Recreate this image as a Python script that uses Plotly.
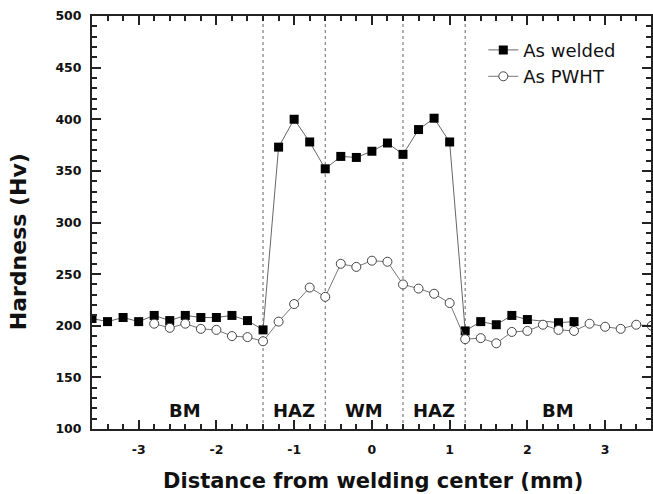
import plotly.graph_objects as go

# ---- data ----
x_welded = [-3.6, -3.4, -3.2, -3.0, -2.8, -2.6, -2.4, -2.2, -2.0, -1.8, -1.6, -1.4,
            -1.2, -1.0, -0.8, -0.6, -0.4, -0.2, 0.0, 0.2, 0.4, 0.6, 0.8, 1.0,
            1.2, 1.4, 1.6, 1.8, 2.0, 2.4, 2.6]
hv_welded = [207, 204, 208, 204, 210, 205, 210, 208, 208, 210, 205, 196,
             373, 400, 378, 352, 364, 363, 369, 377, 366, 390, 401, 378,
             195, 204, 201, 210, 206, 203, 204]

x_pwht = [-2.8, -2.6, -2.4, -2.2, -2.0, -1.8, -1.6, -1.4, -1.2, -1.0, -0.8, -0.6,
          -0.4, -0.2, 0.0, 0.2, 0.4, 0.6, 0.8, 1.0,
          1.2, 1.4, 1.6, 1.8, 2.0, 2.2, 2.4, 2.6, 2.8, 3.0, 3.2, 3.4, 3.6]
hv_pwht = [202, 198, 202, 197, 196, 190, 189, 185, 204, 221, 237, 228,
           260, 257, 263, 262, 240, 236, 231, 222,
           187, 188, 183, 194, 195, 201, 196, 195, 202, 199, 197, 201, 200]

zone_boundaries = [-1.4, -0.6, 0.4, 1.2]
zone_labels = ["BM", "HAZ", "WM", "HAZ", "BM"]
zone_label_x = [-2.4, -1.0, -0.1, 0.8, 2.4]
zone_label_y = 117.6

x_tick_vals = [-3, -2, -1, 0, 1, 2, 3]
x_tick_text = ["-3", "-2", "-1", "0", "1", "2", "3"]
y_tick_vals = [100, 150, 200, 250, 300, 350, 400, 450, 500]

BOLD = "DejaVu Sans"

fig = go.Figure()
fig.add_trace(go.Scatter(
    x=x_welded, y=hv_welded, mode="lines+markers", name="As welded",
    line=dict(color="#666666", width=1),
    marker=dict(symbol="square", size=9, color="black", line=dict(width=0)),
))
fig.add_trace(go.Scatter(
    x=x_pwht, y=hv_pwht, mode="lines+markers", name="As PWHT",
    line=dict(color="#777777", width=1),
    marker=dict(symbol="circle", size=9, color="white",
                line=dict(color="#444444", width=1)),
))

for xb in zone_boundaries:
    fig.add_shape(type="line", x0=xb, x1=xb, y0=0, y1=1, xref="x", yref="paper",
                  line=dict(color="#666666", width=1, dash="dot"), layer="below")

for lab, xl in zip(zone_labels, zone_label_x):
    fig.add_annotation(x=xl, y=zone_label_y, xref="x", yref="y", text=lab,
                       showarrow=False, font=dict(family=BOLD, size=18, color="#111111", weight="bold"))

fig.add_annotation(x=0.5027, y=-0.125, xref="paper", yref="paper",
                   text="Distance from welding center (mm)", showarrow=False,
                   xanchor="center", yanchor="middle",
                   font=dict(family=BOLD, size=21, color="#111111", weight="bold"))
fig.add_annotation(x=-0.130, y=0.453, xref="paper", yref="paper",
                   text="Hardness (Hv)", showarrow=False, textangle=-90,
                   xanchor="center", yanchor="middle",
                   font=dict(family=BOLD, size=22, color="#111111", weight="bold"))

axis_common = dict(
    showgrid=False, zeroline=False, showline=True, linecolor="#222222", linewidth=2,
    mirror="ticks", ticks="inside", ticklen=9, tickwidth=1.5, tickcolor="#222222",
    tickfont=dict(family=BOLD, size=12.5, color="#111111", weight="bold"),
)

fig.update_xaxes(range=[-3.6, 3.59], tickvals=x_tick_vals, ticktext=x_tick_text,
                 minor=dict(ticks="inside", dtick=0.2, tick0=0, ticklen=5, tickwidth=1.5,
                            tickcolor="#222222", showgrid=False),
                 ticklabelstandoff=8, **axis_common)
fig.update_yaxes(range=[100, 500], tickvals=y_tick_vals,
                 minor=dict(ticks="inside", dtick=10, tick0=0, ticklen=5, tickwidth=1.5,
                            tickcolor="#222222", showgrid=False),
                 ticklabelstandoff=6, **axis_common)

fig.update_layout(
    width=653, height=494, autosize=False,
    margin=dict(l=92, r=0, t=16, b=65),
    plot_bgcolor="white", paper_bgcolor="white",
    showlegend=True,
    legend=dict(x=0.70, y=0.962, xanchor="left", yanchor="top",
                bgcolor="rgba(0,0,0,0)", borderwidth=0,
                font=dict(family="DejaVu Sans", size=18, color="#111111")),
)

fig.write_html("out.html")
